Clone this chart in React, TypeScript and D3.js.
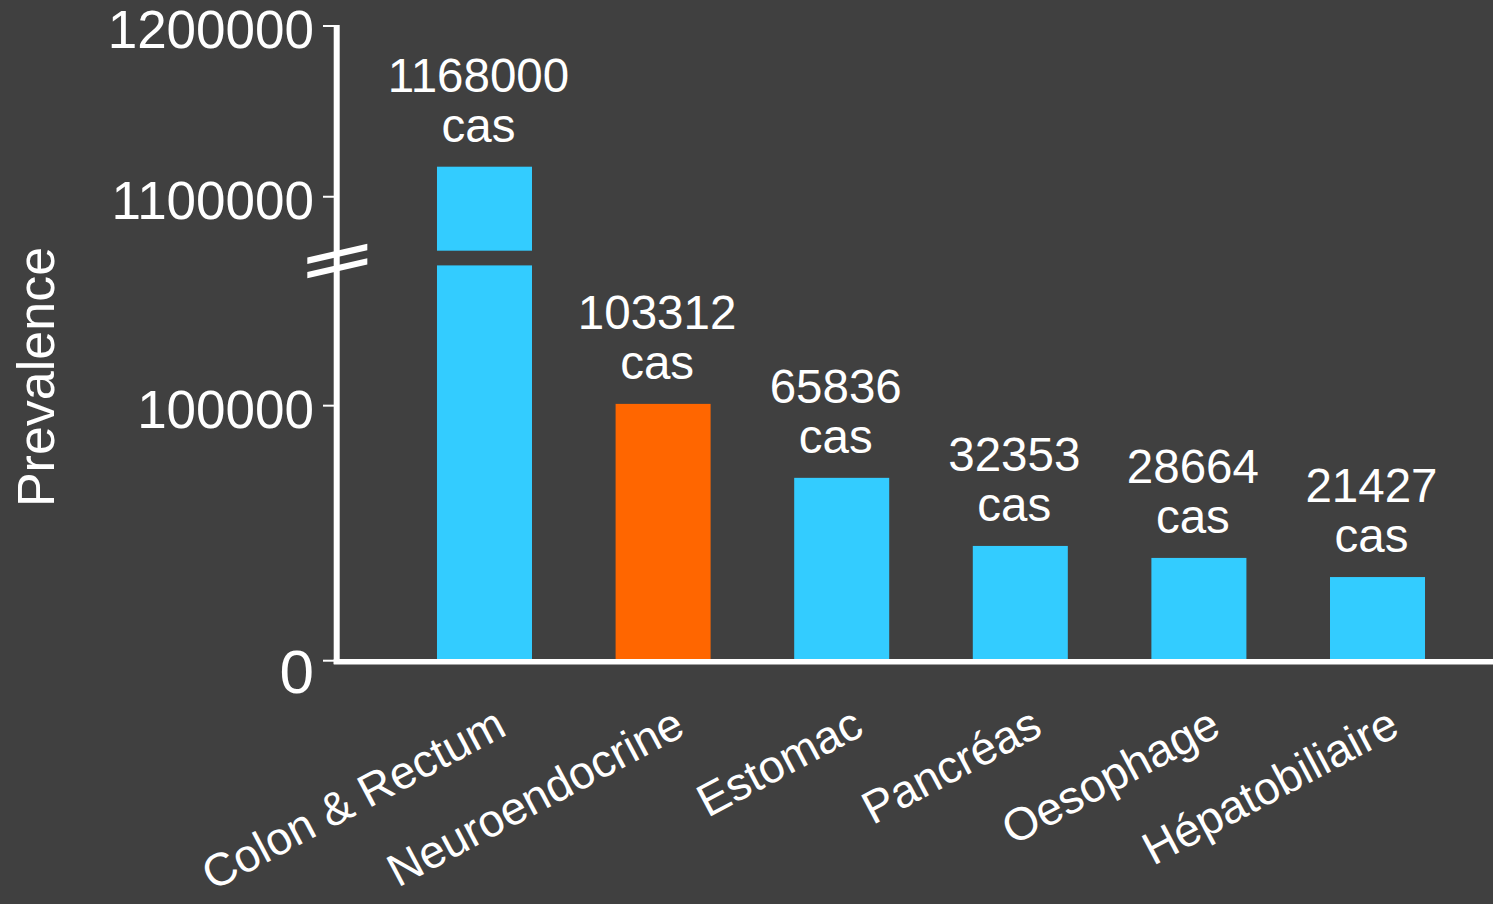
import React from "react";
import * as d3 from "d3";

// ---- data ----
const categories = ["Colon & Rectum", "Neuroendocrine", "Estomac", "Pancréas", "Oesophage", "Hépatobiliaire"];
// case counts written above bars
const caseCounts = [1168000, 103312, 65836, 32353, 28664, 21427];
// bar heights as drawn in the picture (axis units)
const barHeights = [1117600, 100700, 71700, 45000, 40300, 32800];
const highlight = ["Neuroendocrine"];
const lowTicks = [0, 100000];
const highTicks = [1100000, 1200000];
const lowDomain = [0, 155000];
const highDomain = [1068400, 1200000];
const yTitle = "Prevalence";
const unit = "cas";

const W = 1493;
const H = 904;
const BG = "#404040";
const CYAN = "#33CCFF";
const ORANGE = "#FF6600";
const FONT = "'Liberation Sans', Arial, sans-serif";

export default function App() {
  const x = d3.scaleBand<string>().domain(categories).range([353.4, 1508.6]).padding(0.468);
  const yLow = d3.scaleLinear().domain(lowDomain).range([660.7, 265.4]);
  const yHigh = d3.scaleLinear().domain(highDomain).range([250.7, 26]);

  const axisX = 336.7;
  const baseY = 661.7;
  const breakMid = (yHigh(highDomain[0]) + yLow(lowDomain[1])) / 2 + 3;
  const slope = 13.7;
  const bx0 = 307.3;
  const bx1 = 367.3;
  const breakLine = (cy: number) => {
    const h = 3.2;
    const yl = cy + slope / 2;
    const yr = cy - slope / 2;
    return `M${bx0},${yl - h} L${bx1},${yr - h} L${bx1},${yr + h} L${bx0},${yl + h} Z`;
  };

  const bars = categories.map((c, i) => {
    const v = barHeights[i];
    const x0 = x(c)!;
    const bw = x.bandwidth();
    const fill = highlight.includes(c) ? ORANGE : CYAN;
    const rects: React.ReactNode[] = [];
    let topY: number;
    if (v > lowDomain[1]) {
      rects.push(
        <rect key="lo" x={x0} y={yLow(lowDomain[1])} width={bw} height={yLow(0) - yLow(lowDomain[1])} fill={fill} />
      );
      rects.push(
        <rect key="hi" x={x0} y={yHigh(v)} width={bw} height={yHigh(highDomain[0]) - yHigh(v)} fill={fill} />
      );
      topY = yHigh(v);
    } else {
      rects.push(<rect key="lo" x={x0} y={yLow(v)} width={bw} height={yLow(0) - yLow(v)} fill={fill} />);
      topY = yLow(v);
    }
    const cx = x0 + bw / 2 - 6;
    return (
      <g key={c}>
        {rects}
        <text x={cx} y={topY - 25 - 50} textAnchor="middle" fontSize={47.5} fill="#fff" fontFamily={FONT}>
          {caseCounts[i]}
        </text>
        <text x={cx} y={topY - 25} textAnchor="middle" fontSize={47.5} fill="#fff" fontFamily={FONT}>
          {unit}
        </text>
      </g>
    );
  });

  const tickEls = [
    ...lowTicks.map((t) => ({ t, y: yLow(t) })),
    ...highTicks.map((t) => ({ t, y: yHigh(t) })),
  ].map(({ t, y }) => (
    <g key={t}>
      <line x1={323} x2={334} y1={y} y2={y} stroke="#fff" strokeWidth={2} />
      <text
        x={314}
        y={y + (t === 0 ? 32.6 : 22)}
        textAnchor="end"
        fontSize={t === 0 ? 62 : 53}
        fill="#fff"
        fontFamily={FONT}
      >
        {t}
      </text>
    </g>
  ));

  const xLabels = categories.map((c) => {
    const ax = x(c)! + x.bandwidth() / 2 + 24;
    const ay = 734;
    return (
      <text
        key={c}
        x={ax}
        y={ay}
        textAnchor="end"
        fontSize={46}
        fill="#fff"
        fontFamily={FONT}
        transform={`rotate(-28 ${ax} ${ay})`}
      >
        {c}
      </text>
    );
  });

  return (
    <svg width={W} height={H} style={{ position: "absolute", left: 0, top: 0, display: "block" }}>
      <rect x={0} y={0} width={W} height={H} fill={BG} />
      {bars}
      <line x1={axisX} x2={axisX} y1={25} y2={664} stroke="#fff" strokeWidth={6} />
      <line x1={333.7} x2={W} y1={baseY} y2={baseY} stroke="#fff" strokeWidth={5.5} />
      <path d={breakLine(breakMid - 7.2)} fill="#fff" />
      <path d={breakLine(breakMid + 7.2)} fill="#fff" />
      {tickEls}
      <text
        x={54}
        y={377}
        textAnchor="middle"
        fontSize={52}
        fill="#fff"
        fontFamily={FONT}
        transform={`rotate(-90 54 377)`}
      >
        {yTitle}
      </text>
      {xLabels}
    </svg>
  );
}
